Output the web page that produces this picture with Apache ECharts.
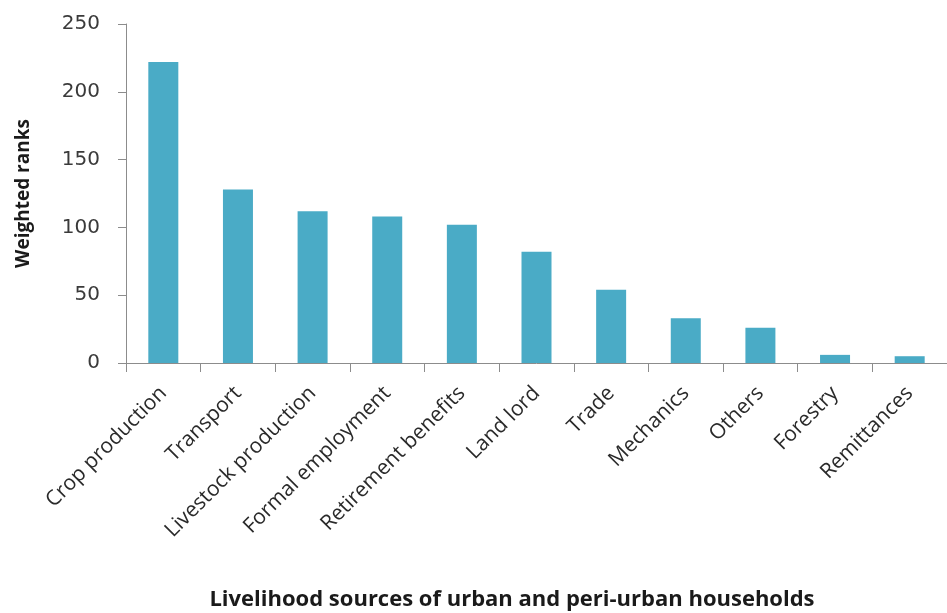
<!DOCTYPE html>
<html>
<head>
<meta charset="utf-8">
<script src="https://cdn.jsdelivr.net/npm/echarts@6/dist/echarts.min.js"></script>
<style>
html,body{margin:0;padding:0;background:#fff;}
#chart{width:947px;height:613px;}
</style>
</head>
<body>
<div id="chart"></div>
<script>
const categories = ["Crop production","Transport","Livestock production","Formal employment","Retirement benefits","Land lord","Trade","Mechanics","Others","Forestry","Remittances"];
const values = [222, 128, 112, 108, 102, 82, 54, 33, 26, 6, 5];
const yTicks = [0, 50, 100, 150, 200, 250];
const yTitle = "Weighted ranks";
const xTitle = "Livelihood sources of urban and peri-urban households";

const chart = echarts.init(document.getElementById('chart'), null, {renderer:'canvas'});
chart.setOption({
  animation: false,
  backgroundColor: '#ffffff',
  grid: {left: 126, top: 24, bottom: 250, right: -9},
  xAxis: {
    type: 'category',
    data: categories,
    boundaryGap: true,
    axisLine: {lineStyle: {color: '#8c8c8c', width: 1}},
    axisTick: {show: true, length: 9, lineStyle: {color: '#8c8c8c'}},
    axisLabel: {rotate: 45, margin: 27, color: '#2a2a2a', fontFamily: 'Open Sans', fontSize: 21, interval: 0}
  },
  yAxis: {
    type: 'value',
    min: yTicks[0], max: yTicks[yTicks.length-1], interval: 50,
    name: yTitle,
    nameLocation: 'middle',
    nameGap: 93,
    nameTextStyle: {fontFamily: 'Open Sans', fontWeight: 'bold', fontSize: 19, color: '#1a1a1a'},
    splitLine: {show: false},
    axisLine: {show: true, lineStyle: {color: '#8c8c8c', width: 1}},
    axisTick: {show: true, length: 8, lineStyle: {color: '#8c8c8c'}},
    axisLabel: {margin: 26, color: '#3a3a3a', fontFamily: 'DejaVu Sans', fontSize: 20}
  },
  graphic: [{
    type: 'text', x: 512, y: 600,
    style: {text: xTitle, font: 'bold 22px "Open Sans"', fill: '#1a1a1a', textAlign: 'center', textVerticalAlign: 'middle'}
  }],
  series: [{
    type: 'bar',
    data: values,
    barWidth: 30,
    itemStyle: {color: '#4aabc6'}
  }]
});
</script>
</body>
</html>
